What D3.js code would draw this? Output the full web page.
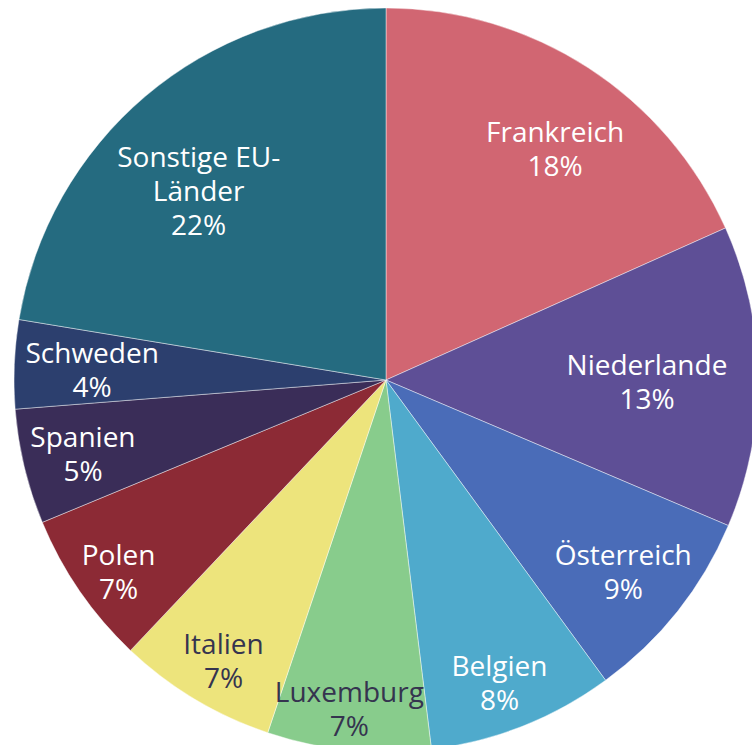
<!DOCTYPE html>
<html>
<head>
<meta charset="utf-8">
<script src="https://cdn.jsdelivr.net/npm/d3@7"></script>
<style>
  body { margin: 0; background: #fff; }
  svg { display: block; }
</style>
</head>
<body>
<script>
// Anteile der Ziel-Länder (in %), im Uhrzeigersinn ab 12 Uhr
const countries = ['Frankreich', 'Niederlande', 'Österreich', 'Belgien', 'Luxemburg',
  'Italien', 'Polen', 'Spanien', 'Schweden', 'Sonstige EU-Länder'];
const shares = [18.3, 13.1, 8.55, 8.1, 7.1, 6.9, 6.7, 5.0, 3.85, 22.4];
const nameLines = [['Frankreich'], ['Niederlande'], ['Österreich'], ['Belgien'], ['Luxemburg'],
  ['Italien'], ['Polen'], ['Spanien'], ['Schweden'], ['Sonstige EU-', 'Länder']];

const colors = ['#d16672', '#5e4f96', '#4a6cb8', '#4faacc', '#88cc8c',
  '#ede47c', '#8c2a35', '#3a2d58', '#2c3f6e', '#256b80'];
const textColors = ['#fff', '#fff', '#fff', '#fff', '#35344f',
  '#35344f', '#fff', '#fff', '#fff', '#fff'];

// label placement (like the "best fit" of the original): radius in px, turn in degrees
const labelRadius = [286, 261, 305, 324, 331, 325, 329, 312, 294, 266];
const labelTurn = [3.3, 1.0, 0.5, 1.1, 0.6, -0.95, -1.05, -0.25, -0.55, -4.45];

const width = 752;
const height = 745;
const cx = 386, cy = 380, radius = 372;
const lineHeight = 34;

const svg = d3.select('body').append('svg')
  .attr('width', width)
  .attr('height', height)
  .append('g')
  .attr('transform', `translate(${cx}, ${cy})`);

const pie = d3.pie().sort(null).value(d => d);
const arcs = pie(shares);

const arc = d3.arc().innerRadius(0).outerRadius(radius);

svg.selectAll('path')
  .data(arcs)
  .enter()
  .append('path')
  .attr('d', arc)
  .style('fill', (d, i) => colors[i])
  .style('stroke', 'rgba(255,255,255,0.55)')
  .style('stroke-width', '0.8px');

const labels = svg.selectAll('text.label')
  .data(arcs)
  .enter()
  .append('text')
  .attr('class', 'label')
  .attr('text-anchor', 'middle')
  .style('font-family', '"Open Sans", sans-serif')
  .style('font-size', '28px')
  .style('fill', (d, i) => textColors[i])
  .each(function (d, i) {
    const a = (d.startAngle + d.endAngle) / 2 + labelTurn[i] * Math.PI / 180;
    const r = labelRadius[i];
    const p = d3.arc().innerRadius(r).outerRadius(r)
      .startAngle(a).endAngle(a).centroid();
    const lines = nameLines[i].concat([Math.round(shares[i]) + '%']);
    const n = lines.length;
    d3.select(this).selectAll('tspan')
      .data(lines)
      .enter()
      .append('tspan')
      .attr('x', p[0])
      .attr('y', (t, j) => p[1] + (j - (n - 1) / 2) * lineHeight + 10)
      .text(t => t);
  });
</script>
</body>
</html>
